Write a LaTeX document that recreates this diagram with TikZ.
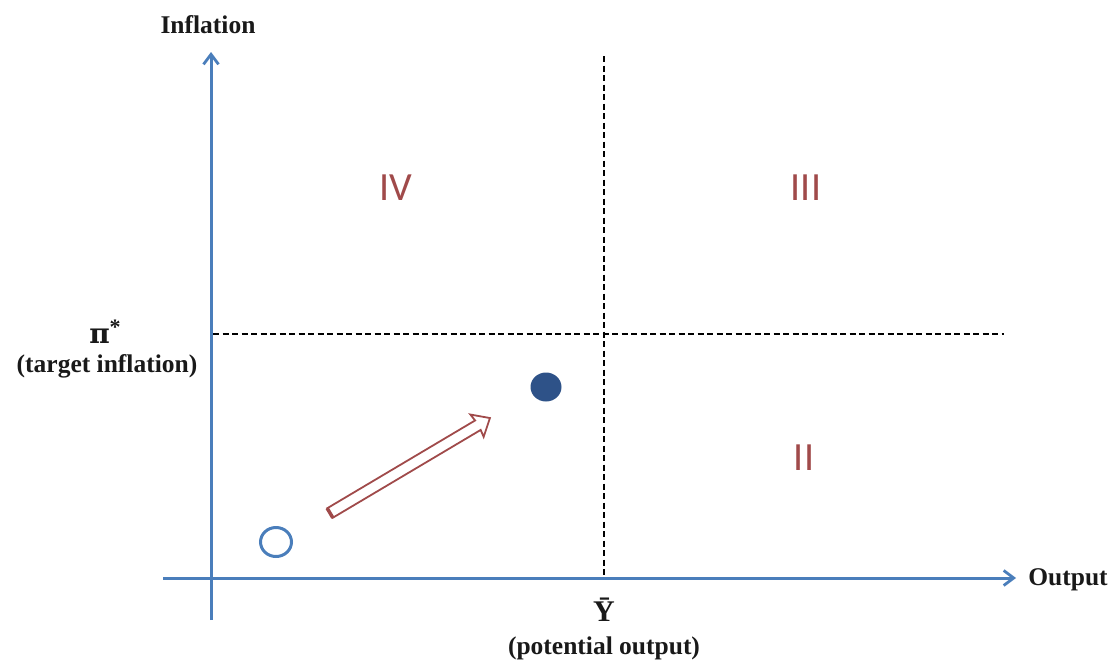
\documentclass[tikz,border=0pt]{standalone}
\usepackage{fontspec}
\setmainfont{Liberation Serif}
\newfontfamily\numfont{Carlito}
\newfontfamily\greekfont{DejaVu Serif}
\usetikzlibrary{arrows.meta,shapes.geometric}
\definecolor{axisblue}{HTML}{4A7EBB}
\definecolor{dotblue}{HTML}{2E5288}
\definecolor{romred}{HTML}{A04A4A}
\tikzset{
  axis/.style={axisblue, line width=3pt, -{Straight Barb[length=10pt,width=15pt,line width=2.8pt]}},
  guide/.style={black, line width=2.8pt, dash pattern=on 6pt off 3.5pt},
  lbl/.style={font=\bfseries\fontsize{25.5}{28}\selectfont, text=black!90, inner sep=0pt},
  biglbl/.style={font=\bfseries\fontsize{30}{32}\selectfont, text=black!90, inner sep=0pt},
  roman/.style={font=\numfont\fontsize{40}{44}\selectfont, text=romred, inner sep=0pt},
}
\begin{document}
\begin{tikzpicture}[x=1pt,y=-1pt]
\useasboundingbox (0,0) rectangle (1111,659);
% axes
\coordinate (ybot) at (211,620);
\coordinate (ytop) at (211,52);
\coordinate (xl) at (163,578);
\coordinate (xr) at (1016,578);
\draw[axis] (ybot) -- (ytop);
\draw[axis] (xl) -- (xr);
% guides
\coordinate (vtop) at (604,56);
\coordinate (vbot) at (604,578);
\coordinate (hl) at (213,334);
\coordinate (hr) at (1004,334);
\draw[guide] (vtop) -- (vbot);
\draw[guide] (hl) -- (hr);
% labels
\node[lbl] (infl) at (208,25) {Inflation};
\node[lbl] (outp) at (1068,580) {Output};
\node[biglbl] (pi) at (105,332) {{\greekfont\bfseries\fontsize{28}{30}\selectfont π}\raisebox{0.3em}{\fontsize{22}{22}\selectfont *}};
\node[lbl] (tinf) at (107,366) {(target inflation)};
\node[biglbl] (ybar) at (604,610) {Ȳ};
\node[lbl] (pout) at (604,648) {(potential output)};
% quadrant numerals
\node[roman] (q4) at (396,188) {IV};
\node[roman] (q3) at (806,188) {III};
\node[roman] (q2) at (804,458) {II};
% points
\node[draw=axisblue, line width=3pt, ellipse, minimum width=31pt, minimum height=29pt, inner sep=0pt] (start) at (276,542) {};
\node[fill=dotblue, ellipse, minimum width=31pt, minimum height=29pt, inner sep=0pt] (end) at (546,387) {};
% block arrow
\begin{scope}[shift={(330,513)}, rotate=30.7]
\coordinate (ba) at (0,0);
\draw[romred, line width=1.8pt, fill=white, line join=miter]
  (0,-5.5) -- (172,-5.5) -- (171,-13) -- (186,0) -- (171,13) -- (172,5.5) -- (0,5.5) -- cycle;
\draw[romred, line width=3.5pt] (0,-5.5) -- (0,5.5);
\end{scope}
\end{tikzpicture}
\end{document}
